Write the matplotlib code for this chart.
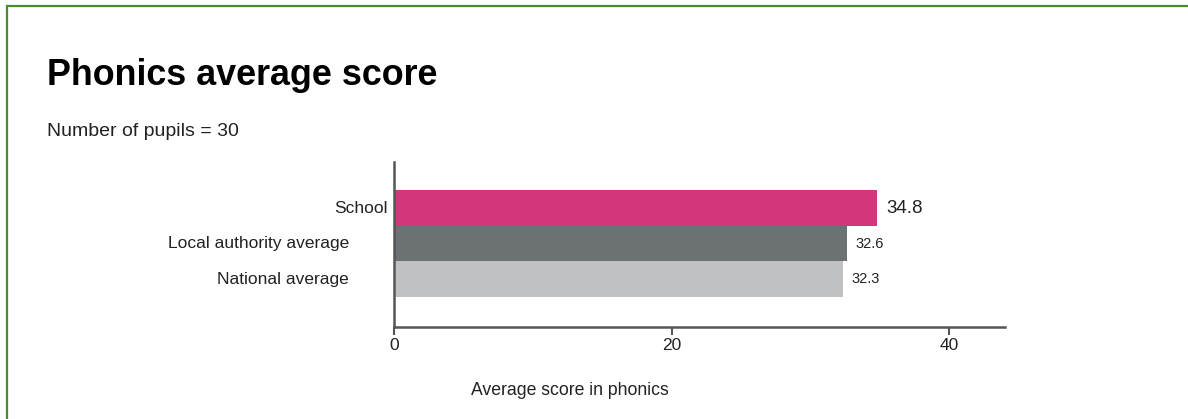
import matplotlib
matplotlib.use("Agg")
import matplotlib.pyplot as plt
from matplotlib.patches import Rectangle

plt.rcParams['font.family'] = ['Liberation Sans', 'DejaVu Sans']

categories = ['School', 'Local authority average', 'National average']
scores = [34.8, 32.6, 32.3]
value_labels = ['34.8', '32.6', '32.3']
bar_colors = ['#D4367C', '#6C7174', '#C0C1C2']
xticks = [0, 20, 40]

fig = plt.figure(figsize=(11.88, 4.19), dpi=100)

# green frame (only top and left edges visible in the crop)
fig.patches.append(Rectangle((7 / 1188, -0.1), 1.2, 1 - 6 / 419 + 0.1,
                             transform=fig.transFigure, fill=False,
                             edgecolor='#4C8A2E', linewidth=1.6))

fig.text(47 / 1188, 1 - 75 / 419, 'Phonics average score', fontsize=25.8,
         fontweight='bold', va='center', ha='left', color='#000000')
fig.text(47 / 1188, 1 - 131 / 419, 'Number of pupils = 30', fontsize=14,
         va='center', ha='left', color='#222222')

ax = fig.add_axes([394 / 1188, 1 - 327 / 419, 611 / 1188, 165 / 419])

ypos = list(range(len(categories)))
ax.barh(ypos, scores, height=1.0, color=bar_colors, edgecolor='none')

ax.set_xlim(0, 44)
ax.set_ylim(3.35, -1.3)

# category labels (the school label sits closer to the axis)
label_offsets = [-6, -45, -45]
for y, lab, off in zip(ypos, categories, label_offsets):
    ax.annotate(lab, xy=(0, y), xytext=(off, 0), textcoords='offset pixels',
                ha='right', va='center', fontsize=12.5, color='#222222')

# value labels
val_sizes = [13.5, 10.5, 10.5]
for y, v, txt, fs in zip(ypos, scores, value_labels, val_sizes):
    ax.annotate(txt, xy=(v, y), xytext=(9, 0), textcoords='offset pixels',
                ha='left', va='center', fontsize=fs, color='#222222')

ax.set_yticks([])
ax.set_xticks(xticks)
ax.tick_params(axis='x', direction='out', length=6, width=1.5,
               color='#555555', labelsize=12.5, labelcolor='#222222', pad=2)

for side in ['top', 'right']:
    ax.spines[side].set_visible(False)
for side in ['left', 'bottom']:
    ax.spines[side].set_color('#555555')
    ax.spines[side].set_linewidth(1.8)

ax.set_xlabel('Average score in phonics', fontsize=12.7, color='#222222')
ax.xaxis.set_label_coords(176 / 611, -55 / 165)

fig.savefig('out.png', dpi=100)
